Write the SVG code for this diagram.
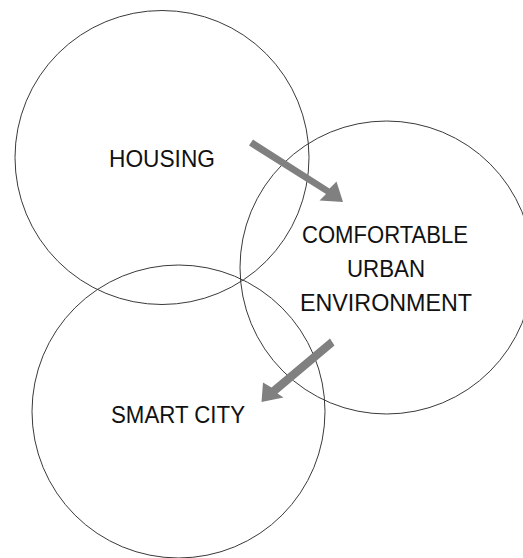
<svg xmlns="http://www.w3.org/2000/svg" width="523" height="558" viewBox="0 0 523 558">
  <style>
    .ring { fill: none; stroke: #3a3a3a; stroke-width: 1; }
    .label { font-family: "Liberation Sans", Arial, sans-serif; font-size: 24px; fill: #111; text-anchor: middle; }
    .flow { fill: #808080; stroke: none; }
  </style>
  <rect width="523" height="558" fill="#fff"/>

  <g id="housing">
    <circle class="ring" cx="162" cy="157.5" r="147"/>
    <text class="label" x="162" y="167" textLength="106" lengthAdjust="spacingAndGlyphs">HOUSING</text>
  </g>

  <g id="comfortable-urban-environment">
    <circle class="ring" cx="386.5" cy="267.5" r="146.5"/>
    <text class="label" x="385" y="243" textLength="166" lengthAdjust="spacingAndGlyphs">COMFORTABLE</text>
    <text class="label" x="386" y="277" textLength="78" lengthAdjust="spacingAndGlyphs">URBAN</text>
    <text class="label" x="386" y="311" textLength="172" lengthAdjust="spacingAndGlyphs">ENVIRONMENT</text>
  </g>

  <g id="smart-city">
    <circle class="ring" cx="178.5" cy="411.5" r="146.5"/>
    <text class="label" x="178" y="423" textLength="134" lengthAdjust="spacingAndGlyphs">SMART CITY</text>
  </g>

  <g id="connectors">
    <!-- housing to comfortable urban environment -->
    <polygon class="flow" points="249,145.5 253,139.5 329.5,188.5 336.5,181.5 343,202 319.5,200.5 326,194"/>
    <!-- comfortable urban environment to smart city -->
    <polygon class="flow" points="330,338.5 334.5,345.5 277.5,393.5 283.5,397.5 261.5,402 263,382.5 271.5,387.5"/>
  </g>
</svg>
